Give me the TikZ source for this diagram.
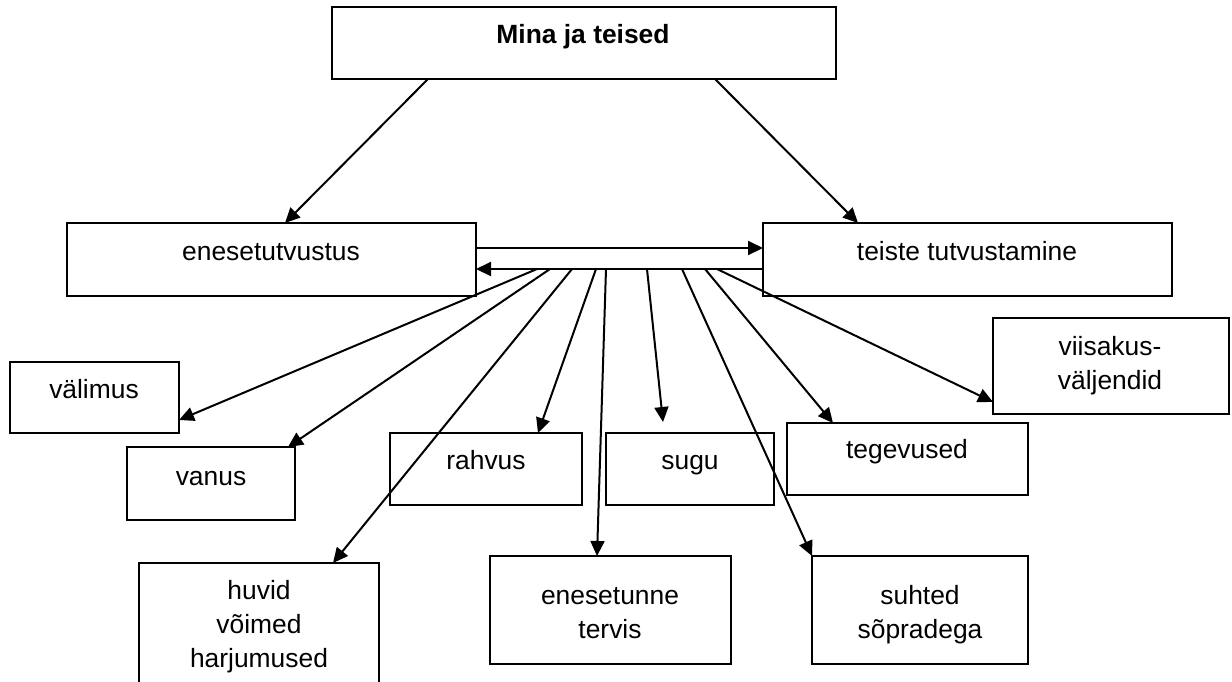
\documentclass[tikz,border=0pt]{standalone}
\usepackage{fontspec}
\setmainfont{Liberation Sans}
\usetikzlibrary{arrows.meta}
\begin{document}
\begin{tikzpicture}[x=1pt,y=-1pt,
  box/.style={draw, line width=2pt, inner sep=0pt, outer sep=0pt, anchor=north west},
  lbl/.style={anchor=base, inner sep=0pt, align=center, font=\fontsize{26.4}{34}\selectfont},
  arr/.style={line width=2pt, -{Triangle[length=15pt,width=14pt]}}]
\useasboundingbox (0,0) rectangle (1232,681);
% boxes
\node[box, minimum width=504pt, minimum height=72pt] (mina) at (332,7) {};
\node[box, minimum width=409pt, minimum height=73pt] (enes) at (67,223) {};
\node[box, minimum width=409pt, minimum height=73pt] (teiste) at (763,223) {};
\node[box, minimum width=169pt, minimum height=71pt] (valimus) at (10,362) {};
\node[box, minimum width=168pt, minimum height=73pt] (vanus) at (127,447) {};
\node[box, minimum width=240pt, minimum height=130pt] (huvid) at (139,563) {};
\node[box, minimum width=192pt, minimum height=72pt] (rahvus) at (390,433) {};
\node[box, minimum width=241pt, minimum height=108pt] (enesetunne) at (490,556) {};
\node[box, minimum width=168pt, minimum height=72pt] (sugu) at (606,433) {};
\node[box, minimum width=216pt, minimum height=108pt] (suhted) at (812,556) {};
\node[box, minimum width=241pt, minimum height=72pt] (tegevused) at (787,423) {};
\node[box, minimum width=236pt, minimum height=96pt] (viisakus) at (993,318) {};
% texts (anchor = baseline of the last line)
\node[lbl] (tmina) at (583,43) {\bfseries Mina ja teised};
\node[lbl] (tenes) at (271,260) {enesetutvustus};
\node[lbl] (tteiste) at (967,260) {teiste tutvustamine};
\node[lbl] (tvalimus) at (94,398) {välimus};
\node[lbl] (tvanus) at (211,485) {vanus};
\node[lbl] (trahvus) at (486,469) {rahvus};
\node[lbl] (tsugu) at (690,469) {sugu};
\node[lbl] (ttegevused) at (907,458) {tegevused};
\node[lbl] (tviisakus) at (1110,389) {viisakus-\\väljendid};
\node[lbl] (thuvid) at (259,667) {huvid\\võimed\\harjumused};
\node[lbl] (tenesetunne) at (610,638) {enesetunne\\tervis};
\node[lbl] (tsuhted) at (920,638) {suhted\\sõpradega};
% connectors
\draw[arr] ([xshift=96pt]mina.south west) -- ([xshift=218pt]enes.north west);
\draw[arr] ([xshift=383pt]mina.south west) -- ([xshift=95pt]teiste.north west);
\draw[arr] ([yshift=-25pt]enes.north east) -- ([yshift=-25pt]teiste.north west);
\draw[arr] ([yshift=-46pt]teiste.north west) -- ([yshift=-46pt]enes.north east);
\coordinate (f1) at (537,269);
\coordinate (f2) at (550,269);
\coordinate (f3) at (572,269);
\coordinate (f4) at (596,269);
\coordinate (f5) at (606,269);
\coordinate (f6) at (647,269);
\coordinate (f7) at (682,269);
\coordinate (f8) at (705,269);
\coordinate (f9) at (717,269);
\draw[arr] (f1) -- ([yshift=13pt]valimus.south east);
\draw[arr] (f2) -- ([xshift=-7pt]vanus.north east);
\draw[arr] (f3) -- ([xshift=194pt]huvid.north west);
\draw[arr] (f4) -- ([xshift=148pt]rahvus.north west);
\draw[arr] (f5) -- ([xshift=107pt]enesetunne.north west);
\draw[arr] (f6) -- ([xshift=57pt,yshift=11pt]sugu.north west);
\draw[arr] (f7) -- (suhted.north west);
\draw[arr] (f8) -- ([xshift=46pt]tegevused.north west);
\draw[arr] (f9) -- ([yshift=12pt]viisakus.south west);
\end{tikzpicture}
\end{document}
